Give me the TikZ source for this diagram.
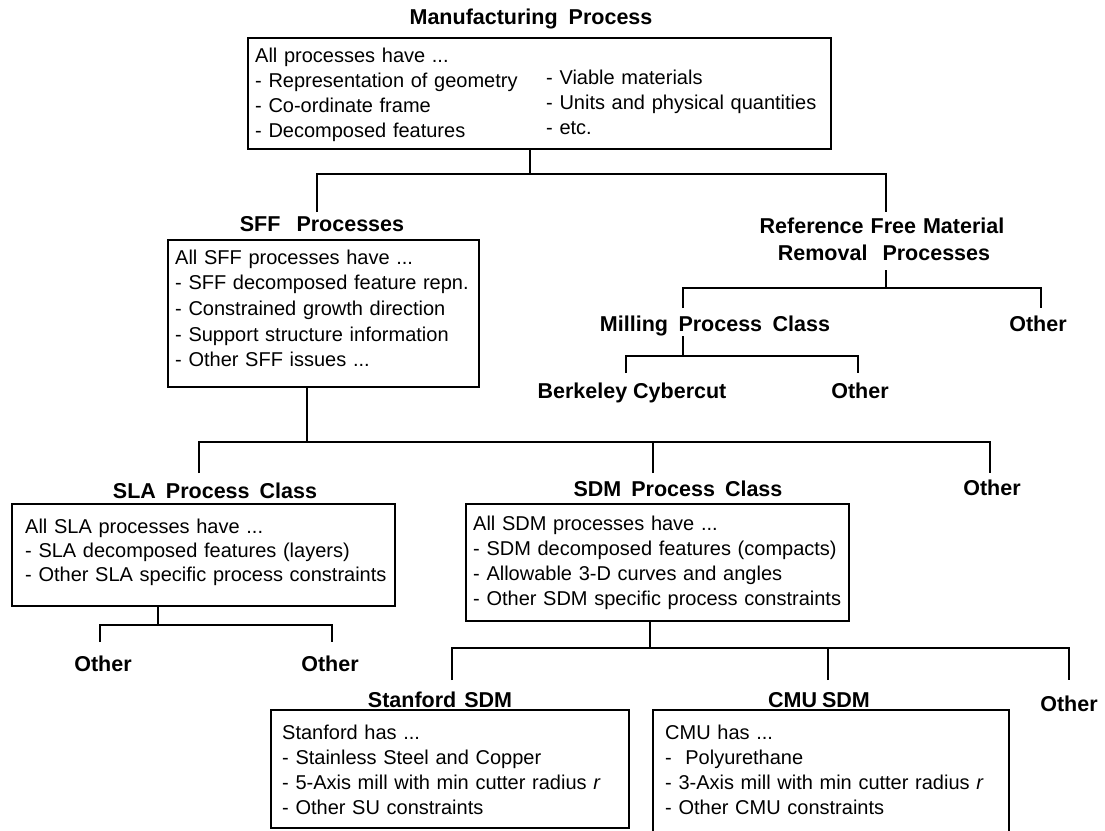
\documentclass[tikz,border=0pt]{standalone}
\usepackage{fontspec}
\setmainfont{Liberation Sans}[WordSpace=1.2]
\newfontfamily\ttlfont{Liberation Sans}
\newcommand\gap[1]{\hspace{#1pt}}
\newcommand\txt[2]{\parbox[t]{420pt}{\raggedright\baselineskip=#1pt\relax #2}}
\tikzset{
  box/.style={draw, line width=1.6pt, inner sep=0pt, anchor=north west},
  body/.style={inner sep=0pt, anchor=base west, font=\fontsize{20}{25}\selectfont},
  ttl/.style={inner sep=0pt, anchor=base, font=\ttlfont\bfseries\fontsize{21.5}{26}\selectfont},
  wire/.style={line width=1.6pt},
}
\begin{document}
\begin{tikzpicture}[x=1pt,y=-1pt]
\useasboundingbox (0,0) rectangle (1105,830);

% ---------- Manufacturing Process ----------
\node[ttl] (mpT) at (531,24) {Manufacturing\gap{11}Process};
\node[box, minimum width=583pt, minimum height=111pt] (mp) at (247,37) {};
\node[body] (mpL) at (255,62) {\txt{25}{All processes have ...\\- Representation of geometry\\- Co-ordinate frame\\- Decomposed features}};
\node[body] (mpR) at (546,84) {\txt{25}{- Viable materials\\- Units and physical quantities\\- etc.}};

% ---------- SFF ----------
\node[ttl] (sffT) at (322,231) {SFF\gap{16}Processes};
\node[box, minimum width=311pt, minimum height=147pt] (sff) at (167,239) {};
\node[body] (sffX) at (175,264) {\txt{25.7}{All SFF processes have ...\\- SFF decomposed feature repn.\\- Constrained growth direction\\- Support structure information\\- Other SFF issues ...}};

% ---------- Reference free ----------
\node[ttl] (rfT1) at (882,233) {Reference\gap{7}Free\gap{7}Material};
\node[ttl] (rfT2) at (884,260) {Removal\gap{15}Processes};
\node[ttl] (millT) at (715,331) {Milling\gap{10.5}Process\gap{10.5}Class};
\node[ttl] (oth1) at (1038,331) {Other};
\node[ttl] (berkT) at (632,398) {Berkeley\gap{6}Cybercut};
\node[ttl] (oth2) at (860,398) {Other};

% ---------- SLA ----------
\node[ttl] (slaT) at (215,498) {SLA\gap{10}Process\gap{10}Class};
\node[box, minimum width=383pt, minimum height=102pt] (sla) at (11,503) {};
\node[body] (slaX) at (25,533) {\txt{24}{All SLA processes have ...\\- SLA decomposed features (layers)\\- Other SLA specific process constraints}};
\node[ttl] (oth5) at (103,671) {Other};
\node[ttl] (oth6) at (330,671) {Other};

% ---------- SDM ----------
\node[ttl] (sdmT) at (678,496) {SDM\gap{10}Process\gap{10}Class};
\node[box, minimum width=383pt, minimum height=117pt] (sdm) at (465,503) {};
\node[body] (sdmX) at (473,530) {\txt{25}{All SDM processes have ...\\- SDM decomposed features (compacts)\\- Allowable 3-D curves and angles\\- Other SDM specific process constraints}};
\node[ttl] (oth3) at (992,495) {Other};

% ---------- Stanford / CMU ----------
\node[ttl] (stanT) at (440,707) {Stanford\gap{8}SDM};
\node[box, minimum width=358pt, minimum height=118pt] (stan) at (270,709) {};
\node[body] (stanX) at (282,739) {\txt{25}{Stanford has ...\\- Stainless Steel and Copper\\- 5-Axis mill with min cutter radius \textit{r}\\- Other SU constraints}};
\node[ttl] (cmuT) at (819,707) {CMU\gap{5}SDM};
\node[box, minimum width=356pt, minimum height=135pt] (cmu) at (652,709) {};
\node[body] (cmuX) at (665,739) {\txt{25}{CMU has ...\\-\gap{13.5}Polyurethane\\- 3-Axis mill with min cutter radius \textit{r}\\- Other CMU constraints}};
\node[ttl] (oth4) at (1069,711) {Other};

% ---------- connectors ----------
\coordinate (b1) at (530,174);
\coordinate (sffIn) at (317,212);
\coordinate (rfIn) at (886,212);
\draw[wire] (mp.south -| b1) -- (b1);
\draw[wire] (sffIn) |- (b1) -| (rfIn);

\coordinate (rfOut) at (886,270);
\coordinate (b2) at (886,288);
\coordinate (millIn) at (683,308);
\coordinate (oth1In) at (1041,308);
\draw[wire] (rfOut) -- (b2);
\draw[wire] (millIn) |- (b2) -| (oth1In);

\coordinate (millOut) at (683,336);
\coordinate (b3) at (683,356);
\coordinate (berkIn) at (626,373);
\coordinate (oth2In) at (858,373);
\draw[wire] (millOut) -- (b3);
\draw[wire] (berkIn) |- (b3) -| (oth2In);

\coordinate (b4) at (307,442);
\coordinate (slaIn) at (199,473);
\coordinate (sdmIn) at (653,473);
\coordinate (oth3In) at (990,473);
\draw[wire] (sff.south -| b4) -- (b4);
\draw[wire] (slaIn) |- (b4) -| (oth3In);
\draw[wire] (sdmIn) -- (sdmIn |- b4);

\coordinate (b5) at (158,625);
\coordinate (oth5In) at (100,642);
\coordinate (oth6In) at (332,642);
\draw[wire] (sla.south -| b5) -- (b5);
\draw[wire] (oth5In) |- (b5) -| (oth6In);

\coordinate (b6) at (650,648);
\coordinate (stanIn) at (452,680);
\coordinate (cmuIn) at (828,680);
\coordinate (oth4In) at (1069,680);
\draw[wire] (sdm.south -| b6) -- (b6);
\draw[wire] (stanIn) |- (b6) -| (oth4In);
\draw[wire] (cmuIn) -- (cmuIn |- b6);
\end{tikzpicture}
\end{document}
